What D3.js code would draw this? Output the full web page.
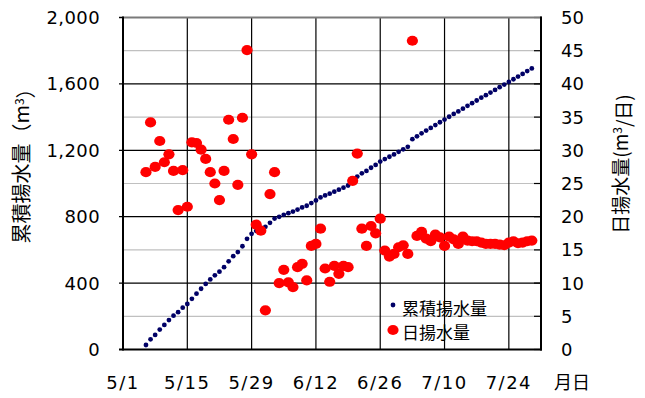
<!DOCTYPE html>
<html>
<head>
<meta charset="utf-8">
<script src="https://cdn.jsdelivr.net/npm/d3@7"></script>
<style>
  body { margin: 0; background: #fff; }
  svg text { font-family: "DejaVu Sans", sans-serif; fill: #000; }
  svg text.jp { font-family: "Noto Sans CJK JP", sans-serif; }
</style>
</head>
<body>
<svg id="chart" width="645" height="398"></svg>
<script>
// Pumping record: daily volume (m³/day) and running total (m³)
const year = 2010;
const firstDay = "5/6";
const lastDay = "7/29";

const dailyVolume = [
  26.7, 34.2, 27.5, 31.4, 28.2, 29.4, 26.9, 21.0, 27.0, 21.5,
  31.2, 31.1, 30.1, 28.7, 26.7, 25.0, 22.5, 26.9, 34.6, 31.7,
  24.8, 34.9, 45.1, 29.4, 18.8, 17.9, 5.9, 23.4, 26.7, 10.0,
  12.0, 10.1, 9.4, 12.4, 12.9, 10.4, 15.6, 15.9, 18.2, 12.2,
  10.2, 12.6, 11.4, 12.6, 12.4, 25.4, 29.5, 18.2, 15.6, 18.6,
  17.5, 19.7, 14.9, 14.0, 14.4, 15.4, 15.7, 14.4, 46.5, 17.1,
  17.7, 16.7, 16.3, 17.3, 16.9, 15.6, 17.0, 16.6, 15.9, 17.0,
  16.4, 16.3, 16.3, 16.1, 15.9, 15.9, 15.9, 15.8, 15.7, 16.1,
  16.3, 16.0, 16.1, 16.3, 16.4
];

const cumulativeVolume = [
  27, 61, 88, 120, 148, 177, 204, 225, 252, 274,
  305, 336, 366, 395, 422, 447, 469, 496, 531, 562,
  587, 622, 667, 697, 715, 733, 739, 763, 789, 799,
  811, 821, 831, 843, 856, 866, 882, 898, 916, 928,
  939, 951, 963, 975, 988, 1013, 1042, 1061, 1076, 1095,
  1112, 1132, 1147, 1161, 1175, 1191, 1206, 1221, 1267, 1284,
  1302, 1319, 1335, 1352, 1369, 1385, 1402, 1419, 1434, 1451,
  1468, 1484, 1500, 1517, 1532, 1548, 1564, 1580, 1596, 1612,
  1628, 1644, 1660, 1677, 1693
];

const xTickLabels = ["5/1", "5/15", "5/29", "6/12", "6/26", "7/10", "7/24"];
const xDomainLabels = ["5/1", "7/31"];
const leftTicks = [0, 400, 800, 1200, 1600, 2000];
const leftMinor = [200, 600, 1000, 1400, 1800];
const rightTicks = [0, 5, 10, 15, 20, 25, 30, 35, 40, 45, 50];
const seriesNames = ["累積揚水量", "日揚水量"];

const toDate = s => { const [m, d] = s.split("/").map(Number); return new Date(Date.UTC(year, m - 1, d)); };
const days = d3.utcDay.range(toDate(firstDay), d3.utcDay.offset(toDate(lastDay), 1));

const plot = { left: 123, right: 541, top: 17.5, bottom: 349.5 };
const svg = d3.select("#chart");

const x = d3.scaleUtc().domain(xDomainLabels.map(toDate)).range([plot.left, plot.right]);
const yL = d3.scaleLinear().domain([0, 2000]).range([plot.bottom, plot.top]);
const yR = d3.scaleLinear().domain([0, 50]).range([plot.bottom, plot.top]);

const fmt = d3.format(",");

// grid: light minor rows, black major rows and date columns
const grid = svg.append("g");
grid.selectAll(".minor").data(leftMinor).join("line")
  .attr("x1", plot.left).attr("x2", plot.right)
  .attr("y1", d => yL(d)).attr("y2", d => yL(d))
  .attr("stroke", "#c0c0c0").attr("stroke-width", 1.2);
grid.selectAll(".major").data(leftTicks.slice(1, -1)).join("line")
  .attr("x1", plot.left - 4).attr("x2", plot.right)
  .attr("y1", d => yL(d)).attr("y2", d => yL(d))
  .attr("stroke", "#000").attr("stroke-width", 1.2);
grid.selectAll(".vcol").data(xTickLabels.slice(1)).join("line")
  .attr("x1", d => x(toDate(d))).attr("x2", d => x(toDate(d)))
  .attr("y1", plot.top).attr("y2", plot.bottom)
  .attr("stroke", "#000").attr("stroke-width", 1.2);

// right axis inward ticks
grid.selectAll(".rtick").data(rightTicks).join("line")
  .attr("x1", plot.right - 7).attr("x2", plot.right)
  .attr("y1", d => yR(d)).attr("y2", d => yR(d))
  .attr("stroke", "#000").attr("stroke-width", 1.2);

// frame
svg.append("line").attr("x1", plot.left).attr("x2", plot.right + 1).attr("y1", plot.top).attr("y2", plot.top)
  .attr("stroke", "#7a7a7a").attr("stroke-width", 2);
svg.append("line").attr("x1", plot.left).attr("x2", plot.left).attr("y1", plot.top - 1).attr("y2", plot.bottom + 1)
  .attr("stroke", "#000").attr("stroke-width", 2);
svg.append("line").attr("x1", plot.right).attr("x2", plot.right).attr("y1", plot.top - 1).attr("y2", plot.bottom + 1)
  .attr("stroke", "#000").attr("stroke-width", 2);
svg.append("line").attr("x1", plot.left - 4).attr("x2", plot.right + 1).attr("y1", plot.bottom).attr("y2", plot.bottom)
  .attr("stroke", "#000").attr("stroke-width", 2.2);
svg.append("line").attr("x1", plot.left - 4).attr("x2", plot.left).attr("y1", plot.top).attr("y2", plot.top)
  .attr("stroke", "#000").attr("stroke-width", 1.5);

// tick labels
svg.append("g").selectAll("text").data(leftTicks).join("text")
  .attr("x", 100).attr("y", d => yL(d)).attr("dy", "0.36em")
  .attr("text-anchor", "end").attr("font-size", 18).attr("letter-spacing", 0.4).text(d => fmt(d));
svg.append("g").selectAll("text").data(rightTicks).join("text")
  .attr("x", 561).attr("y", d => yR(d)).attr("dy", "0.36em")
  .attr("text-anchor", "start").attr("font-size", 18).text(d => d);
svg.append("g").selectAll("text").data(xTickLabels).join("text")
  .attr("x", d => x(toDate(d))).attr("y", 383).attr("dy", "0.36em")
  .attr("text-anchor", "middle").attr("font-size", 18).attr("letter-spacing", 1.5).text(d => d);
svg.append("text").attr("class", "jp").attr("x", 554).attr("y", 383).attr("dy", "0.36em")
  .attr("font-size", 18).text("月日");

// axis titles
const leftTitle = svg.append("text").attr("class", "jp")
  .attr("transform", "translate(22,161) rotate(-90)")
  .attr("text-anchor", "middle").attr("dy", "0.36em").attr("font-size", 20);
leftTitle.append("tspan").text("累積揚水量（m");
leftTitle.append("tspan").attr("dy", "-0.45em").attr("font-size", 12).text("3");
leftTitle.append("tspan").attr("dy", "0.45em").text("）");

const rightTitle = svg.append("text").attr("class", "jp")
  .attr("transform", "translate(621,164) rotate(-90)")
  .attr("text-anchor", "middle").attr("dy", "0.36em").attr("font-size", 19);
rightTitle.append("tspan").text("日揚水量(m");
rightTitle.append("tspan").attr("dy", "-0.45em").attr("font-size", 12).text("3");
rightTitle.append("tspan").attr("dy", "0.45em").text("/日)");

// series
svg.append("g").selectAll("circle").data(cumulativeVolume).join("circle")
  .attr("cx", (d, i) => x(days[i])).attr("cy", d => yL(d))
  .attr("r", 2.4).attr("fill", "#000066");
svg.append("g").selectAll("ellipse").data(dailyVolume).join("ellipse")
  .attr("cx", (d, i) => x(days[i])).attr("cy", d => yR(d))
  .attr("rx", 5.6).attr("ry", 5.1).attr("fill", "#ff0000");

// legend
const legend = svg.append("g");
legend.append("circle").attr("cx", 393).attr("cy", 305).attr("r", 2.4).attr("fill", "#000066");
legend.append("ellipse").attr("cx", 393).attr("cy", 330).attr("rx", 5.6).attr("ry", 5.1).attr("fill", "#ff0000");
legend.append("text").attr("class", "jp").attr("x", 402).attr("y", 309).attr("dy", "0.36em")
  .attr("font-size", 17).text(seriesNames[0]);
legend.append("text").attr("class", "jp").attr("x", 402).attr("y", 333).attr("dy", "0.36em")
  .attr("font-size", 17).text(seriesNames[1]);
</script>
</body>
</html>
